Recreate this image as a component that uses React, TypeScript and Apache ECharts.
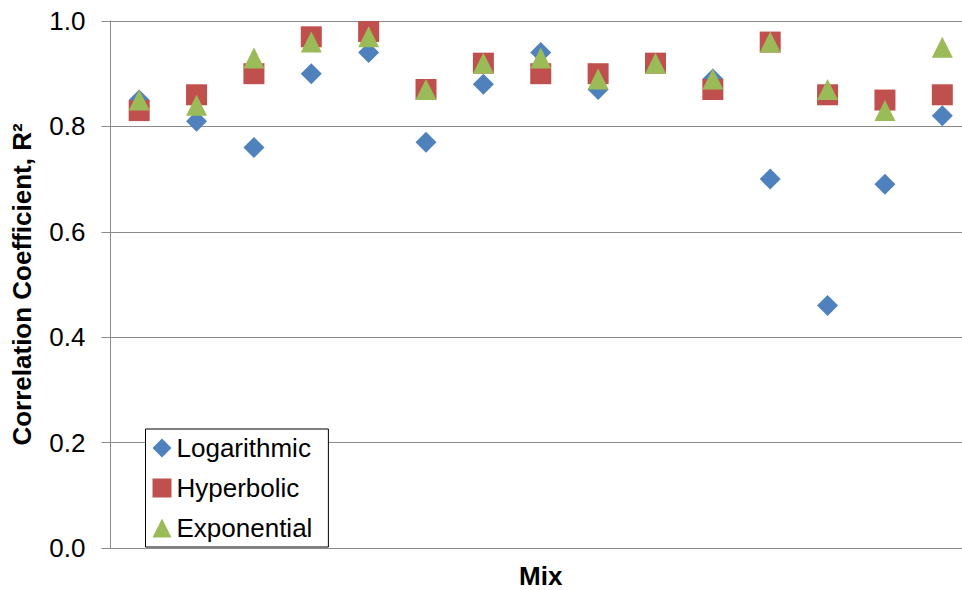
import React, { useEffect, useRef } from "react";
import * as echarts from "echarts";

const categories = ["1", "2", "3", "4", "5", "6", "7", "8", "9", "10", "11", "12", "13", "14", "15"];
const logarithmic = [0.85, 0.81, 0.76, 0.9, 0.94, 0.77, 0.88, 0.94, 0.87, 0.92, 0.89, 0.7, 0.46, 0.69, 0.82];
const hyperbolic = [0.83, 0.86, 0.9, 0.97, 0.98, 0.87, 0.92, 0.9, 0.9, 0.92, 0.87, 0.96, 0.86, 0.85, 0.86];
const exponential = [0.85, 0.84, 0.93, 0.96, 0.97, 0.87, 0.92, 0.93, 0.89, 0.92, 0.89, 0.96, 0.87, 0.83, 0.95];
const yTicks = [0, 0.2, 0.4, 0.6, 0.8, 1.0];

const FONT = "'Liberation Sans', Arial, sans-serif";
const GRID_COLOR = "#8a8a8a";

export default function App() {
  const ref = useRef<HTMLDivElement>(null);
  useEffect(() => {
    if (!ref.current) return;
    const chart = echarts.init(ref.current, null, { renderer: "svg" });
    chart.setOption({
      animation: false,
      backgroundColor: "#ffffff",
      textStyle: { fontFamily: FONT },
      grid: {
        left: 110.5,
        right: -9,
        top: 21,
        bottom: 42,
        containLabel: false,
        outerBoundsMode: "none",
      },
      legend: {
        orient: "vertical",
        left: 145.5,
        top: 429,
        padding: [6, 16, 6, 7],
        itemGap: 14,
        itemWidth: 19,
        itemHeight: 19,
        borderColor: "#000000",
        borderWidth: 1,
        backgroundColor: "#ffffff",
        textStyle: { fontSize: 26, color: "#000000", fontFamily: FONT },
        data: ["Logarithmic", "Hyperbolic", "Exponential"],
      },
      xAxis: {
        type: "category",
        data: categories,
        boundaryGap: true,
        name: "Mix",
        nameLocation: "middle",
        nameGap: 15,
        nameTextStyle: {
          fontSize: 26,
          lineHeight: 26,
          fontWeight: "bold",
          color: "#000000",
          fontFamily: FONT,
        },
        axisLine: { show: true, lineStyle: { color: GRID_COLOR, width: 1 } },
        axisTick: { show: false },
        axisLabel: { show: false },
        splitLine: { show: false },
      },
      yAxis: {
        type: "value",
        min: 0,
        max: 1,
        interval: 0.2,
        name: "Correlation Coefficient, R\u00B2",
        nameLocation: "middle",
        nameGap: 76,
        nameRotate: 90,
        nameTextStyle: { fontSize: 26, fontWeight: "bold", color: "#000000", fontFamily: FONT },
        axisLine: { show: true, lineStyle: { color: GRID_COLOR, width: 1 } },
        axisTick: { show: true, inside: false, length: 9, lineStyle: { color: GRID_COLOR, width: 1 } },
        axisLabel: {
          fontSize: 26,
          color: "#000000",
          margin: 25,
          fontFamily: FONT,
          formatter: (v: number) => {
            const t = yTicks.find((x) => Math.abs(x - v) < 1e-9);
            return (t !== undefined ? t : v).toFixed(1);
          },
        },
        splitLine: { show: true, lineStyle: { color: GRID_COLOR, width: 1 } },
      },
      series: [
        {
          name: "Logarithmic",
          type: "scatter",
          symbol: "diamond",
          symbolSize: 21,
          itemStyle: { color: "#4F81BD", opacity: 1 },
          data: logarithmic,
          z: 2,
        },
        {
          name: "Hyperbolic",
          type: "scatter",
          symbol: "rect",
          symbolSize: 21,
          itemStyle: { color: "#C0504D", opacity: 1 },
          data: hyperbolic,
          z: 3,
        },
        {
          name: "Exponential",
          type: "scatter",
          symbol: "triangle",
          symbolSize: 21,
          itemStyle: { color: "#9BBB59", opacity: 1 },
          data: exponential,
          z: 4,
        },
      ],
    });
    return () => chart.dispose();
  }, []);
  return (
    <div
      ref={ref}
      style={{ position: "fixed", left: 0, top: 0, width: 962, height: 590, background: "#fff" }}
    />
  );
}
